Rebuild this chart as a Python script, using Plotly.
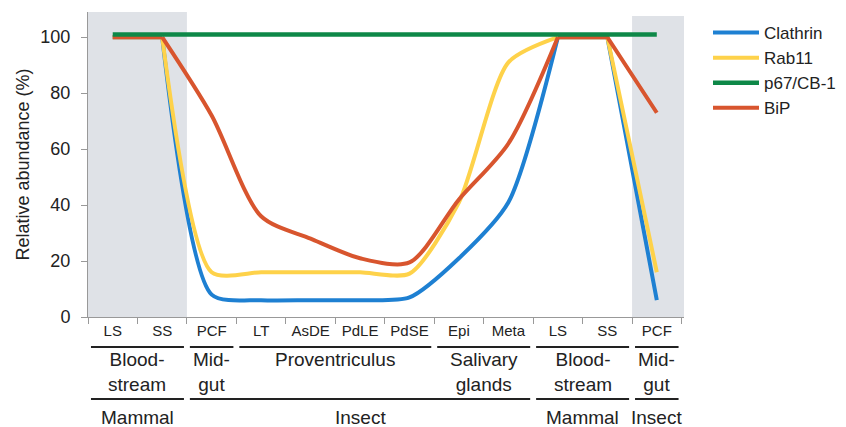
import plotly.graph_objects as go

categories = ["LS", "SS", "PCF", "LT", "AsDE", "PdLE", "PdSE", "Epi", "Meta", "LS", "SS", "PCF"]
clathrin = [100, 100, 8, 6, 6, 6, 7, 21, 41, 100, 100, 6]
rab11 = [100, 100, 16, 16, 16, 16, 15.5, 41, 91, 100, 100, 16]
p67 = [101, 101, 101, 101, 101, 101, 101, 101, 101, 101, 101, 101]
bip = [100, 100, 72, 36, 28, 21, 19.5, 42, 62, 100, 100, 73]

tissue_groups = [("Blood-<br>stream", 0, 1), ("Mid-<br>gut", 2, 2), ("Proventriculus", 3, 6),
                 ("Salivary<br>glands", 7, 8), ("Blood-<br>stream", 9, 10), ("Mid-<br>gut", 11, 11)]
host_groups = [("Mammal", 0, 1), ("Insect", 2, 8), ("Mammal", 9, 10), ("Insect", 11, 11)]
shaded = [(0, 1), (11, 11)]

x = list(range(len(categories)))
FONT = "Liberation Sans, Arial, sans-serif"
TXT = "#222"

# smooth part: SS (1) .. LS (9); straight parts: LS-SS (0-1) and LS-SS-PCF (9-11)
SMOOTH = slice(1, 10)
STRAIGHT = [0, 1, None, 9, 10, 11]

fig = go.Figure()
series = [("Clathrin", clathrin, "#1e80d2", 0.7, 1), ("Rab11", rab11, "#fed24a", 0.7, 2),
          ("BiP", bip, "#d8552e", 0.8, 4)]
for name, vals, col, sm, rank in series:
    fig.add_trace(go.Scatter(x=x[SMOOTH], y=vals[SMOOTH], name=name, mode="lines", legendrank=rank,
                             legendgroup=name,
                             line=dict(color=col, width=4, shape="spline", smoothing=sm)))
    fig.add_trace(go.Scatter(x=[None if i is None else x[i] for i in STRAIGHT],
                             y=[None if i is None else vals[i] for i in STRAIGHT],
                             name=name, mode="lines", legendgroup=name, showlegend=False,
                             connectgaps=False, line=dict(color=col, width=4)))
fig.add_trace(go.Scatter(x=x, y=p67, name="p67/CB-1", mode="lines", legendrank=3,
                         line=dict(color="#0e8848", width=4.5)))

for a, b in shaded:
    fig.add_shape(type="rect", xref="x", yref="paper", x0=a - 0.5, x1=b + 0.5 + (0.05 if b == 11 else 0),
                  y0=0, y1=1 if a == 0 else (317 - 16) / 305.0,
                  fillcolor="#dfe2e7", line_width=0, layer="below")

def pap(py):
    return (317 - py) / 305.0

for label, a, b in tissue_groups:
    fig.add_shape(type="line", xref="x", yref="paper", x0=a - 0.44, x1=b + 0.44,
                  y0=pap(347), y1=pap(347), line=dict(color="#222", width=2))
    fig.add_annotation(x=(a + b) / 2, y=pap(347), xref="x", yref="paper", text=label,
                       showarrow=False, yanchor="top", font=dict(size=19, color=TXT, family=FONT),
                       align="center")
for label, a, b in host_groups:
    fig.add_shape(type="line", xref="x", yref="paper", x0=a - 0.44, x1=b + 0.44,
                  y0=pap(399), y1=pap(399), line=dict(color="#222", width=2))
    fig.add_annotation(x=(a + b) / 2, y=pap(405), xref="x", yref="paper", text=label,
                       showarrow=False, yanchor="top", font=dict(size=19, color=TXT, family=FONT))

fig.update_layout(
    width=846, height=427,
    margin=dict(l=88, r=162, t=12, b=110),
    paper_bgcolor="white", plot_bgcolor="white",
    font=dict(family=FONT, color=TXT),
    showlegend=True,
    legend=dict(xref="container", yref="container", x=708 / 846, y=1 - 15 / 427,
                xanchor="left", yanchor="top",
                font=dict(size=17, color=TXT), itemwidth=46,
                tracegroupgap=0, bgcolor="rgba(0,0,0,0)"),
    xaxis=dict(range=[-0.5, 11.55], tickmode="array", tickvals=x, ticktext=categories,
               ticks="", showgrid=False, zeroline=False, showline=True, linecolor="#999", linewidth=1,
               tickfont=dict(size=15, color=TXT), automargin=False,
               minor=dict(tickmode="array", tickvals=[i - 0.5 for i in range(len(categories) + 1)],
                          ticks="outside", ticklen=6, tickcolor="#999", showgrid=False)),
    yaxis=dict(range=[0, 109], tickvals=[0, 20, 40, 60, 80, 100], ticks="outside", ticklen=6,
               tickcolor="#999", showgrid=False, zeroline=False, showline=True, linecolor="#999",
               linewidth=1, tickfont=dict(size=18, color=TXT), automargin=False,
               ticklabelstandoff=7,
               title=dict(text="Relative abundance (%)", font=dict(size=18, color=TXT), standoff=6)),
)

fig.write_html("out.html", config={"displayModeBar": False},
               post_script="document.body.style.margin='0';document.body.style.padding='0';")
